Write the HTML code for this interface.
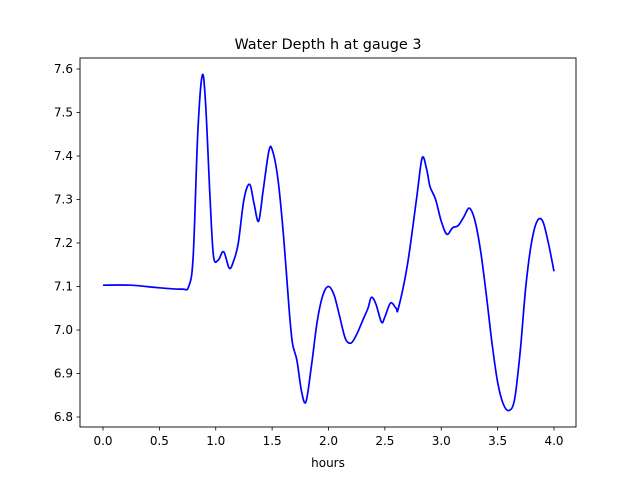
<!DOCTYPE html>
<html><head><meta charset="utf-8"><style>
body{margin:0;background:#fff;font-family:"DejaVu Sans","Liberation Sans",sans-serif}
svg text{font-family:"DejaVu Sans","Liberation Sans",sans-serif;font-size:12px;fill:#000}
</style></head><body>
<svg width="640" height="480">
<rect x="0" y="0" width="640" height="480" fill="#fff"/>
<text x="328" y="49" text-anchor="middle" style="font-size:14.4px">Water Depth h at gauge 3</text>
<g id="axes"></g>
<path id="line" fill="none" stroke="#0000ff" stroke-width="1.7"/>
<rect x="80" y="58" width="496" height="369" fill="none" stroke="#000" stroke-width="0.9"/>
<text x="328" y="467" text-anchor="middle">hours</text>
</svg>
<script>
const hours=[0,0.25,0.5,0.7,0.76,0.8,0.84,0.88,0.91,0.95,0.98,1.02,1.07,1.12,1.16,1.2,1.25,1.3,1.34,1.38,1.42,1.47,1.5,1.55,1.6,1.65,1.68,1.72,1.76,1.8,1.85,1.9,1.95,2.0,2.05,2.1,2.15,2.2,2.25,2.3,2.35,2.38,2.42,2.47,2.5,2.55,2.6,2.62,2.7,2.78,2.83,2.87,2.9,2.95,3.0,3.05,3.1,3.15,3.2,3.25,3.3,3.35,3.4,3.45,3.5,3.55,3.6,3.65,3.7,3.75,3.8,3.85,3.9,3.95,4.0];
const depth=[7.103,7.103,7.097,7.094,7.10,7.17,7.45,7.585,7.52,7.30,7.17,7.16,7.18,7.142,7.16,7.20,7.30,7.335,7.29,7.25,7.32,7.41,7.415,7.35,7.22,7.05,6.97,6.93,6.86,6.835,6.92,7.02,7.08,7.10,7.08,7.03,6.98,6.97,6.99,7.02,7.05,7.075,7.06,7.018,7.03,7.062,7.05,7.05,7.15,7.30,7.395,7.37,7.33,7.30,7.25,7.22,7.235,7.24,7.26,7.28,7.25,7.18,7.08,6.97,6.88,6.83,6.815,6.84,6.95,7.10,7.20,7.25,7.25,7.20,7.135];
const xTicks=[0,0.5,1,1.5,2,2.5,3,3.5,4];
const yTicks=[6.8,6.9,7.0,7.1,7.2,7.3,7.4,7.5,7.6];
const sx=v=>103+v*112.75;
const sy=v=>417-(v-6.8)*435;
const ns="http://www.w3.org/2000/svg";
const ax=document.getElementById('axes');
function mk(tag,attrs){const e=document.createElementNS(ns,tag);for(const k in attrs)e.setAttribute(k,attrs[k]);ax.appendChild(e);return e;}
xTicks.forEach(t=>{
 const l=mk('line',{x1:sx(t),x2:sx(t),y1:427,y2:430.5,stroke:'#000','stroke-width':0.8});
 
 
 const tx=mk('text',{x:sx(t),y:445,'text-anchor':'middle'});tx.textContent=t.toFixed(1);
 
 
});
yTicks.forEach(t=>{
 const l=mk('line',{x1:76.5,x2:80,y1:sy(t),y2:sy(t),stroke:'#000','stroke-width':0.8});
 
 
 const tx=mk('text',{x:73,y:sy(t)+4,'text-anchor':'end'});tx.textContent=t.toFixed(1);
 
 
});
const P=hours.map((h,i)=>[sx(h),sy(depth[i])]);
let d='M'+P[0][0]+','+P[0][1];
for(let i=0;i<P.length-1;i++){
 const p0=P[Math.max(0,i-1)],p1=P[i],p2=P[i+1],p3=P[Math.min(P.length-1,i+2)];
 const c1=[p1[0]+(p2[0]-p0[0])/6,p1[1]+(p2[1]-p0[1])/6];
 const c2=[p2[0]-(p3[0]-p1[0])/6,p2[1]-(p3[1]-p1[1])/6];
 d+=`C${c1[0]},${c1[1]} ${c2[0]},${c2[1]} ${p2[0]},${p2[1]}`;
}
document.getElementById('line').setAttribute('d',d);
</script>
</body></html>
